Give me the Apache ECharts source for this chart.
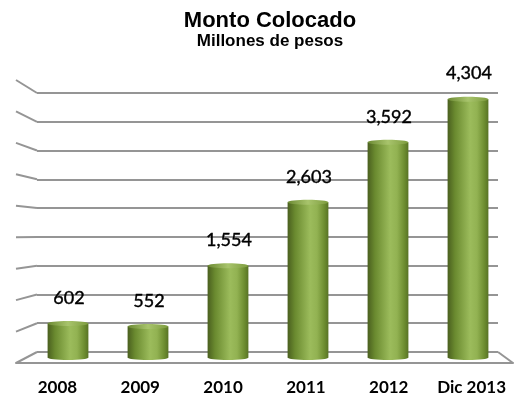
<!DOCTYPE html>
<html><head><meta charset="utf-8">
<script src="https://cdn.jsdelivr.net/npm/echarts@6/dist/echarts.min.js"></script>
<style>html,body{margin:0;padding:0;background:#fff}#c{width:515px;height:401px}</style>
</head><body><div id="c"></div>
<script>
// ---- data ----
const categories = ['2008', '2009', '2010', '2011', '2012', 'Dic 2013'];
const values = [602, 552, 1554, 2603, 3592, 4304];
const axisMin = 0;
const axisMax = 4500;
const axisStep = 500;
const titleText = 'Monto Colocado';
const subtitleText = 'Millones de pesos';

// ---- layout ----
const W = 515, H = 401;
const back = { left: 37, right: 17, top: 93, bottom: 49 };
const bars = { left: 28, right: 7, top: 87.3, bottom: 41 };
const front = { left: 16, right: 2, top: 80, bottom: 38 };
const lineColor = '#959595';

const chart = echarts.init(document.getElementById('c'));

function bodyGrad() {
  return new echarts.graphic.LinearGradient(0, 0, 1, 0, [
    { offset: 0, color: '#4a5f1f' },
    { offset: 0.18, color: '#6a8a2f' },
    { offset: 0.55, color: '#9cbc5c' },
    { offset: 0.72, color: '#92b252' },
    { offset: 0.9, color: '#6d8d30' },
    { offset: 1, color: '#587325' }
  ]);
}
function capGrad() {
  return new echarts.graphic.LinearGradient(0, 0, 1, 0, [
    { offset: 0, color: '#6c8a33' },
    { offset: 0.5, color: '#a8c46c' },
    { offset: 1, color: '#7d9c3e' }
  ]);
}
function fmt(v) { return v.toLocaleString('en-US'); }

const option = {
  animation: false,
  backgroundColor: '#fff',
  title: [
    { text: titleText, left: 265, top: 5, textAlign: 'center',
      textStyle: { fontFamily: 'Liberation Sans', fontWeight: 'bold', fontSize: 22, color: '#000' } },
    { text: subtitleText, left: 265, top: 28, textAlign: 'center',
      textStyle: { fontFamily: 'Liberation Sans', fontWeight: 'bold', fontSize: 17, color: '#000' } }
  ],
  grid: [
    Object.assign({ containLabel: false }, back),
    Object.assign({ containLabel: false }, bars),
    Object.assign({ containLabel: false }, front)
  ],
  xAxis: [
    { gridIndex: 0, type: 'category', data: categories, show: false },
    { gridIndex: 1, type: 'category', data: categories, show: false },
    { gridIndex: 2, type: 'category', data: categories,
      axisLine: { show: true, lineStyle: { color: lineColor, width: 2 } },
      axisTick: { show: false },
      axisLabel: { interval: 0, margin: 16, fontFamily: 'Lato', fontWeight: 'bold', fontSize: 17, color: '#000' } }
  ],
  yAxis: [
    { gridIndex: 0, type: 'value', min: axisMin, max: axisMax, interval: axisStep,
      axisLabel: { show: false }, axisLine: { show: false }, axisTick: { show: false },
      splitLine: { show: true, lineStyle: { color: lineColor, width: 2 } } },
    { gridIndex: 1, type: 'value', min: axisMin, max: axisMax, interval: axisStep, show: false, splitLine: { show: false } },
    { gridIndex: 2, type: 'value', min: axisMin, max: axisMax, interval: axisStep, show: false, splitLine: { show: false } }
  ],
  series: [{
    type: 'custom',
    xAxisIndex: 1, yAxisIndex: 1,
    z: 5,
    data: values.map((v, i) => [i, v]),
    renderItem: function (params, api) {
      const idx = api.value(0), v = api.value(1);
      const top = api.coord([idx, v]);
      const base = api.coord([idx, 0]);
      const bw = api.size([1, 0])[0] * 0.51;
      const ry = 2.5;
      const x0 = top[0] - bw / 2;
      return {
        type: 'group',
        children: [
          { type: 'rect', shape: { x: x0, y: top[1], width: bw, height: base[1] - ry - top[1] }, style: { fill: bodyGrad() } },
          { type: 'ellipse', shape: { cx: top[0], cy: base[1] - ry, rx: bw / 2, ry: ry }, style: { fill: bodyGrad() } },
          { type: 'ellipse', shape: { cx: top[0], cy: top[1], rx: bw / 2, ry: ry }, style: { fill: capGrad() } },
          { type: 'text', style: { text: fmt(v), x: top[0] + 1, y: top[1] - ry - 14, align: 'center', verticalAlign: 'bottom',
              fontFamily: 'Lato', fontSize: 18, fill: '#000', stroke: '#000', lineWidth: 0.4 } }
        ]
      };
    }
  }]
};
chart.setOption(option);

// side wall and floor edges, built from the axes' own scales
const lines = [];
for (let v = axisMin; v <= axisMax; v += axisStep) {
  const yb = chart.convertToPixel({ yAxisIndex: 0 }, v);
  const yf = chart.convertToPixel({ yAxisIndex: 2 }, v);
  lines.push({ type: 'line', z: 1, shape: { x1: front.left, y1: yf, x2: back.left, y2: yb },
    style: { stroke: lineColor, lineWidth: 2 } });
}
{
  const yb = chart.convertToPixel({ yAxisIndex: 0 }, axisMin);
  const yf = chart.convertToPixel({ yAxisIndex: 2 }, axisMin);
  lines.push({ type: 'line', z: 1, shape: { x1: W - back.right, y1: yb, x2: W - front.right, y2: yf },
    style: { stroke: lineColor, lineWidth: 2 } });
}
chart.setOption({ graphic: lines });
</script>
</body></html>
